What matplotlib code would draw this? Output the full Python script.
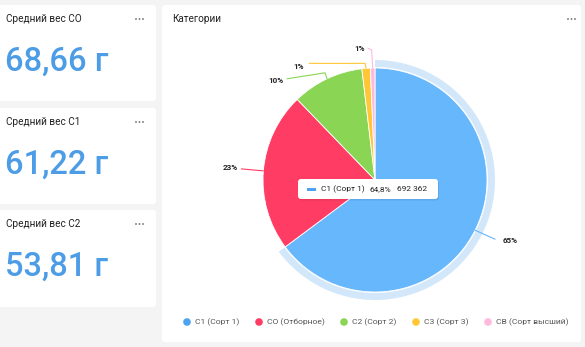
import numpy as np
import matplotlib
matplotlib.use("Agg")
import matplotlib.pyplot as plt
from matplotlib.patches import FancyBboxPatch, Wedge, Rectangle

plt.rcParams['font.family'] = ['Roboto', 'DejaVu Sans']

# Данные
kpi_titles = ["Средний вес СО", "Средний вес С1", "Средний вес С2"]
kpi_values = ["68,66 г", "61,22 г", "53,81 г"]

categories = ["C1 (Сорт 1)", "СО (Отборное)", "C2 (Сорт 2)", "C3 (Сорт 3)", "CB (Сорт высший)"]
counts = [692362, 245500, 110500, 13000, 7000]
colors = ["#67b7fd", "#ff3d64", "#8ad554", "#ffc636", "#ffb9dd"]
legend_colors = ["#4da2f1", "#ff3d64", "#8ad554", "#ffc636", "#ffb9dd"]

W, H = 585, 347
fig = plt.figure(figsize=(W / 100, H / 100), dpi=100)
fig.patch.set_facecolor("#f4f4f4")

bg = fig.add_axes([0, 0, 1, 1])
bg.set_xlim(0, W)
bg.set_ylim(H, 0)
bg.axis("off")


def card(ax, x0, y0, x1, y1):
    ax.add_patch(FancyBboxPatch((x0, y0), x1 - x0, y1 - y0,
                                boxstyle="round,pad=0,rounding_size=3",
                                facecolor="white", edgecolor="none"))


def menu_dots(ax, x, y):
    # значок меню «···»
    ax.scatter([x, x + 3.5, x + 7], [y, y, y], s=1.6, color="#666666", edgecolor="none")


# Карточки слева
card_boxes = [(-4, 5, 156, 101), (-4, 108, 156, 204), (-4, 210, 156, 307)]
for (x0, y0, x1, y1), t, v in zip(card_boxes, kpi_titles, kpi_values):
    card(bg, x0, y0, x1, y1)
    bg.text(6, y0 + 13.5, t, fontsize=7.2, color="#222222", va="center")
    menu_dots(bg, 136, y0 + 14)
    bg.text(5, y0 + 57, v, fontsize=23.5, color="#4c9ce6", va="center",
            fontweight="medium")

# Карточка с диаграммой
card(bg, 162, 5, 581, 342)
bg.text(172, 19, "Категории", fontsize=7.2, color="#222222", va="center")
menu_dots(bg, 568, 19)

# Легенда
leg_x = [187, 259, 344, 416, 488]
for x, c, name in zip(leg_x, legend_colors, categories):
    bg.scatter([x], [322], s=30, color=c, edgecolor="none")
    bg.text(x + 8, 322.5, name, fontsize=6.1, color="#555555", va="center")

# Круговая диаграмма
cx, cy, R = 375, 180, 112
half = 150
pie_ax = fig.add_axes([(cx - half) / W, (H - cy - half) / H, 2 * half / W, 2 * half / H])
pie_ax.set_zorder(1)
wedges, _ = pie_ax.pie(counts, colors=colors, startangle=90, counterclock=False,
                       radius=R, wedgeprops=dict(edgecolor="white", linewidth=0.6))
pie_ax.set_xlim(-half, half)
pie_ax.set_ylim(-half, half)
pie_ax.set_aspect("equal")
pie_ax.axis("off")

# Подсветка выбранного сектора
w0 = wedges[0]
pie_ax.add_patch(Wedge((0, 0), R + 8, w0.theta1, w0.theta2, width=7,
                       facecolor="#d3e7fa", edgecolor="none"))

# Подписи с выносками (смещения относительно края сектора)
total = sum(counts)
pct = [round(100 * v / total) for v in counts]
label_layout = [
    # (путь выноски относительно точки на краю, позиция текста, выравнивание)
    ([(0, 0), (20, -9)], (28, -10), "left"),
    ([(0, 0), (-22, 2)], (-26, 3), "right"),
    ([(0, 0), (-2, 6), (-40, 0)], (-44, -2), "right"),
    ([(0, 0), (-1, 5), (-57, 5)], (-62, 2), "right"),
    ([(0, 0), (-1, 18), (-5, 20)], (-8, 20), "right"),
]
for wdg, p, c, (path, tpos, ha) in zip(wedges, pct, colors, label_layout):
    mid = np.deg2rad((wdg.theta1 + wdg.theta2) / 2)
    ex, ey = R * np.cos(mid), R * np.sin(mid)
    xs = [ex + dx for dx, dy in path]
    ys = [ey + dy for dx, dy in path]
    pie_ax.plot(xs, ys, color=c, lw=0.8, solid_capstyle="round")
    pie_ax.text(ex + tpos[0], ey + tpos[1], f"{p}%", fontsize=5.8, color="#222222",
                ha=ha, va="center", fontweight="bold")

# Подсказка
top = fig.add_axes([0, 0, 1, 1])
top.set_zorder(2)
top.patch.set_alpha(0)
top.set_xlim(0, W)
top.set_ylim(H, 0)
top.axis("off")
top.add_patch(FancyBboxPatch((299, 180.5), 140, 20, boxstyle="round,pad=0,rounding_size=3",
                             facecolor="#000000", alpha=0.08, edgecolor="none"))
top.add_patch(FancyBboxPatch((298, 179), 140, 20, boxstyle="round,pad=0,rounding_size=3",
                             facecolor="white", edgecolor="none"))
top.add_patch(Rectangle((307, 187.5), 9, 3, facecolor=legend_colors[0], edgecolor="none"))
share = 100 * counts[0] / total
top.text(321, 189, categories[0], fontsize=6, color="#222222", va="center")
top.text(370, 189, f"{share:.1f}%".replace(".", ","), fontsize=6, color="#222222", va="center")
top.text(397, 189, f"{counts[0]:,}".replace(",", " "), fontsize=6, color="#222222", va="center")

fig.savefig("out.png", dpi=100)
